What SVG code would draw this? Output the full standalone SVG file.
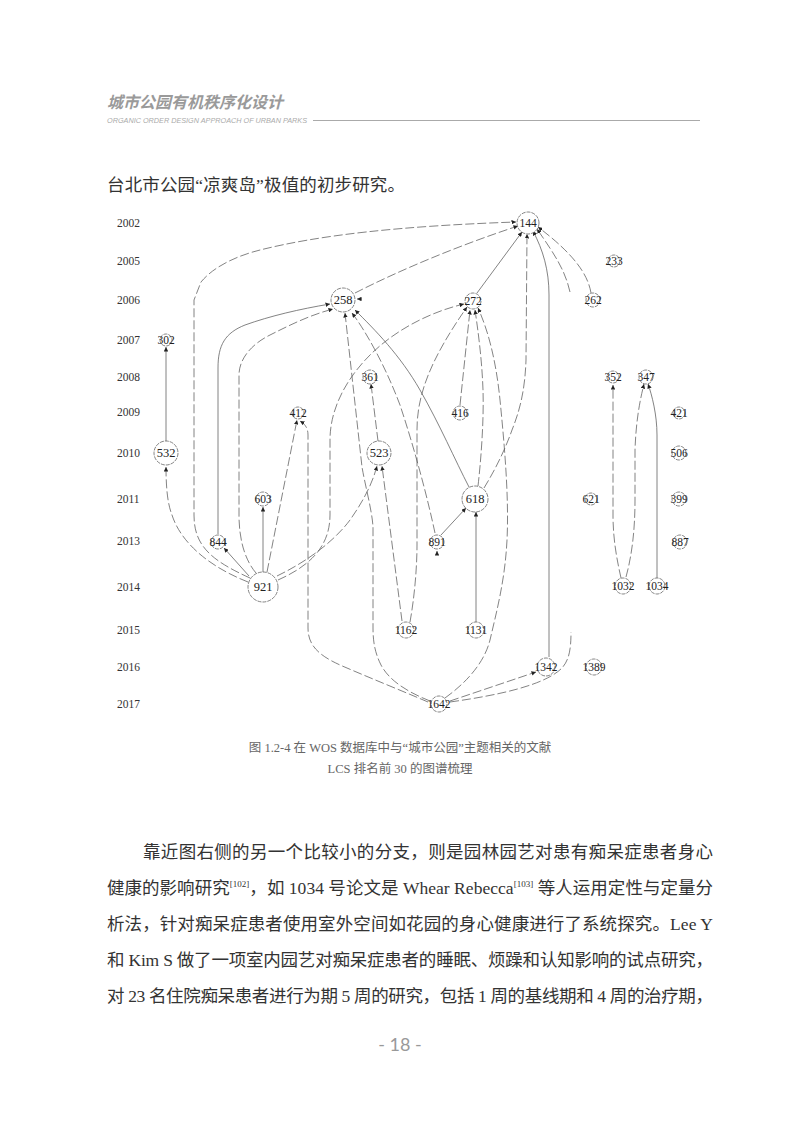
<svg xmlns="http://www.w3.org/2000/svg" width="800" height="1123" viewBox="0 0 800 1123">
<style>
.yr{font-family:"Liberation Serif",serif;font-size:11.5px;fill:#333}
.nc{fill:#fff;stroke:#666;stroke-width:0.8;stroke-dasharray:4 1}
.nl{font-family:"Liberation Serif",serif;font-size:11.5px;fill:#222;text-anchor:middle;dominant-baseline:central}
.big{font-size:12.5px}
.e{fill:none;stroke:#5a5a5a;stroke-width:0.75;stroke-dasharray:9 3}
.s{fill:none;stroke:#5a5a5a;stroke-width:0.75}
.body{font-family:"Liberation Serif","Noto Sans CJK SC",serif;font-size:17.5px;fill:#333}
.cap{font-family:"Liberation Serif","Noto Sans CJK SC",serif;font-size:12.5px;fill:#666;text-anchor:middle}
</style>
<defs>
<marker id="a" viewBox="0 0 6 6" refX="6" refY="3" markerWidth="4.5" markerHeight="4.5" orient="auto" markerUnits="userSpaceOnUse"><path d="M0,0 L6,3 L0,6 z" fill="#222"/></marker>
</defs>
<rect width="800" height="1123" fill="#fff"/>
<g id="header">
<text x="107" y="108" font-family="Noto Sans CJK SC,sans-serif" font-size="16" font-weight="bold" font-style="italic" fill="#9a9a9a">城市公园有机秩序化设计</text>
<text x="107" y="123" font-family="Liberation Sans,sans-serif" font-size="7" font-style="italic" fill="#aaa" textLength="200" lengthAdjust="spacingAndGlyphs">ORGANIC ORDER DESIGN APPROACH OF URBAN PARKS</text>
<line x1="313" y1="120.5" x2="700" y2="120.5" stroke="#aaa" stroke-width="1"/>
</g>
<text class="body" x="107" y="191" textLength="298" lengthAdjust="spacing">台北市公园“凉爽岛”极值的初步研究。</text>
<g id="years">
<text class="yr" x="117" y="227">2002</text>
<text class="yr" x="117" y="265">2005</text>
<text class="yr" x="117" y="304">2006</text>
<text class="yr" x="117" y="344">2007</text>
<text class="yr" x="117" y="381">2008</text>
<text class="yr" x="117" y="416">2009</text>
<text class="yr" x="117" y="457">2010</text>
<text class="yr" x="117" y="503">2011</text>
<text class="yr" x="117" y="545">2013</text>
<text class="yr" x="117" y="591">2014</text>
<text class="yr" x="117" y="634">2015</text>
<text class="yr" x="117" y="671">2016</text>
<text class="yr" x="117" y="708">2017</text>
</g>
<g id="connectors">
<path class="e" marker-end="url(#a)" d="M250,578 C210,560 194,545 194,515 L194,300 L201,282 C215,265 240,255 260,250 C320,235 400,226 516,222"/>
<path class="s" marker-end="url(#a)" d="M218,534 L218,368 C218,345 225,333 245,325 C270,316 300,309 330,304"/>
<path class="e" marker-end="url(#a)" d="M256,573 C245,560 239,540 239,515 L239,375 C239,360 250,345 270,335 C290,325 310,315 333,309"/>
<path class="e" marker-end="url(#a)" d="M248,582 C205,565 180,540 172,515 C168,505 166,490 166,467"/>
<path class="s" marker-end="url(#a)" d="M166,441 L166,347"/>
<path class="s" marker-end="url(#a)" d="M249,576 L224,548"/>
<path class="s" marker-end="url(#a)" d="M263,572 L263,507"/>
<path class="e" marker-end="url(#a)" d="M267,572 L297,420"/>
<path class="e" marker-end="url(#a)" d="M277,576 C310,560 335,540 350,520 C362,503 372,485 377,466"/>
<path class="e" marker-end="url(#a)" d="M278,580 C305,568 330,550 330,515 L330,440 C330,410 345,380 370,355 C395,330 430,312 464,304"/>
<path class="e" marker-end="url(#a)" d="M428,702 C400,690 370,678 340,665 C318,655 308,645 308,628 L308,435 C308,428 305,424 300,421"/>
<path class="e" marker-end="url(#a)" d="M430,701 C410,693 390,682 381,665 C375,653 373,642 373,628 L373,527 C372,510 365,485 362,467 L345,313"/>
<path class="s" marker-end="url(#a)" d="M469,487 C455,460 440,425 420,390 C400,355 375,330 355,310"/>
<path class="e" marker-end="url(#a)" d="M435,533 C428,500 415,450 400,405 C385,365 365,330 352,313"/>
<path class="e" marker-end="url(#a)" d="M402,621 L382,466"/>
<path class="e" marker-end="url(#a)" d="M410,622 C414,600 417,570 417,545 L417,430 C417,395 430,360 467,307"/>
<path class="e" marker-end="url(#a)" d="M460,405 L470,310"/>
<path class="e" marker-end="url(#a)" d="M478,486 C481,460 484,420 483,390 C482,360 478,330 475,310"/>
<path class="e" marker-end="url(#a)" d="M445,698 C470,680 485,660 490,640 C497,610 505,580 507,540 C509,500 505,450 500,400 C496,360 488,330 478,308"/>
<path class="e" marker-end="url(#a)" d="M484,488 C495,470 505,450 512,430 C520,410 525,390 526,360 L527,234"/>
<path class="s" marker-end="url(#a)" d="M549,657 L549,295 C549,270 543,250 533,231"/>
<path class="e" d="M450,702 C500,695 545,685 562,668 C569,660 571,650 571,632"/>
<path class="e" marker-end="url(#a)" d="M570,292 C565,270 555,255 537,229"/>
<path class="e" marker-end="url(#a)" d="M591,293 C588,275 575,255 538,227"/>
<path class="s" marker-end="url(#a)" d="M477,293 L522,232"/>
<path class="e" marker-end="url(#a)" d="M355,293 C400,270 460,245 518,226"/>
<path class="e" marker-end="url(#a)" d="M378,441 L371,384"/>
<path class="s" marker-end="url(#a)" d="M441,535 L466,508"/>
<path class="s" marker-end="url(#a)" d="M476,622 L476,512"/>
<path class="e" marker-end="url(#a)" d="M450,701 L536,672"/>
<path class="e" marker-end="url(#a)" d="M621,578 C617,560 613,540 613,515 L613,385"/>
<path class="e" marker-end="url(#a)" d="M626,577 C632,555 635,530 635,500 L635,450 C636,420 640,400 644,384"/>
<path class="s" marker-end="url(#a)" d="M657,578 L657,435 C657,415 652,395 648,384"/>
<path class="s" marker-end="url(#a)" d="M362,299 L357,299"/>
<path class="s" marker-end="url(#a)" d="M437,555 L437,551"/>
</g>
<g id="n144"><circle class="nc" cx="528" cy="223" r="11"/><text class="nl" x="528" y="223">144</text></g>
<g id="n233"><circle class="nc" cx="614" cy="261" r="6"/><text class="nl" x="614" y="261">233</text></g>
<g id="n258"><circle class="nc" cx="343" cy="300" r="12"/><text class="nl big" x="343" y="300">258</text></g>
<g id="n272"><circle class="nc" cx="473" cy="301" r="8"/><text class="nl" x="473" y="301">272</text></g>
<g id="n262"><circle class="nc" cx="593" cy="300" r="7"/><text class="nl" x="593" y="300">262</text></g>
<g id="n302"><circle class="nc" cx="166" cy="340" r="6"/><text class="nl" x="166" y="340">302</text></g>
<g id="n361"><circle class="nc" cx="370" cy="377" r="7"/><text class="nl" x="370" y="377">361</text></g>
<g id="n352"><circle class="nc" cx="613" cy="377" r="6"/><text class="nl" x="613" y="377">352</text></g>
<g id="n347"><circle class="nc" cx="646" cy="377" r="7"/><text class="nl" x="646" y="377">347</text></g>
<g id="n412"><circle class="nc" cx="298" cy="413" r="6"/><text class="nl" x="298" y="413">412</text></g>
<g id="n416"><circle class="nc" cx="460" cy="413" r="7"/><text class="nl" x="460" y="413">416</text></g>
<g id="n421"><circle class="nc" cx="679" cy="413" r="6"/><text class="nl" x="679" y="413">421</text></g>
<g id="n532"><circle class="nc" cx="166" cy="453" r="12"/><text class="nl big" x="166" y="453">532</text></g>
<g id="n523"><circle class="nc" cx="379" cy="453" r="12"/><text class="nl big" x="379" y="453">523</text></g>
<g id="n506"><circle class="nc" cx="679" cy="453" r="7"/><text class="nl" x="679" y="453">506</text></g>
<g id="n603"><circle class="nc" cx="263" cy="499" r="7"/><text class="nl" x="263" y="499">603</text></g>
<g id="n618"><circle class="nc" cx="475" cy="499" r="13"/><text class="nl big" x="475" y="499">618</text></g>
<g id="n621"><circle class="nc" cx="591" cy="499" r="6"/><text class="nl" x="591" y="499">621</text></g>
<g id="n399"><circle class="nc" cx="679" cy="499" r="7"/><text class="nl" x="679" y="499">399</text></g>
<g id="n844"><circle class="nc" cx="218" cy="542" r="7"/><text class="nl" x="218" y="542">844</text></g>
<g id="n891"><circle class="nc" cx="437" cy="542" r="7"/><text class="nl" x="437" y="542">891</text></g>
<g id="n887"><circle class="nc" cx="680" cy="542" r="7"/><text class="nl" x="680" y="542">887</text></g>
<g id="n921"><circle class="nc" cx="263" cy="587" r="15"/><text class="nl big" x="263" y="587">921</text></g>
<g id="n1032"><circle class="nc" cx="623" cy="586" r="8"/><text class="nl" x="623" y="586">1032</text></g>
<g id="n1034"><circle class="nc" cx="657" cy="586" r="8"/><text class="nl" x="657" y="586">1034</text></g>
<g id="n1162"><circle class="nc" cx="406" cy="630" r="8"/><text class="nl" x="406" y="630">1162</text></g>
<g id="n1131"><circle class="nc" cx="476" cy="630" r="8"/><text class="nl" x="476" y="630">1131</text></g>
<g id="n1342"><circle class="nc" cx="546" cy="667" r="9"/><text class="nl" x="546" y="667">1342</text></g>
<g id="n1389"><circle class="nc" cx="594" cy="667" r="8"/><text class="nl" x="594" y="667">1389</text></g>
<g id="n1642"><circle class="nc" cx="439" cy="704" r="8"/><text class="nl" x="439" y="704">1642</text></g>
<g id="caption">
<text class="cap" x="400" y="752">图 1.2-4 在 WOS 数据库中与“城市公园”主题相关的文献</text>
<text class="cap" x="400" y="773">LCS 排名前 30 的图谱梳理</text>
</g>
<g id="paragraph">
<text class="body" x="143" y="858" textLength="570" lengthAdjust="spacing">靠近图右侧的另一个比较小的分支，则是园林园艺对患有痴呆症患者身心</text>
<text class="body" x="107" y="894" textLength="606" lengthAdjust="spacing">健康的影响研究<tspan font-size="9" dy="-7">[102]</tspan><tspan dy="7">，如 1034 号论文是 Whear Rebecca</tspan><tspan font-size="9" dy="-7">[103]</tspan><tspan dy="7"> 等人运用定性与定量分</tspan></text>
<text class="body" x="107" y="930" textLength="606" lengthAdjust="spacing">析法，针对痴呆症患者使用室外空间如花园的身心健康进行了系统探究。Lee Y</text>
<text class="body" x="107" y="966" textLength="606" lengthAdjust="spacing">和 Kim S 做了一项室内园艺对痴呆症患者的睡眠、烦躁和认知影响的试点研究，</text>
<text class="body" x="107" y="1002" textLength="606" lengthAdjust="spacing">对 23 名住院痴呆患者进行为期 5 周的研究，包括 1 周的基线期和 4 周的治疗期，</text>
</g>
<text x="400" y="1051" text-anchor="middle" font-family="Lato,Roboto,sans-serif" font-size="18" fill="#999">- 18 -</text>
</svg>
